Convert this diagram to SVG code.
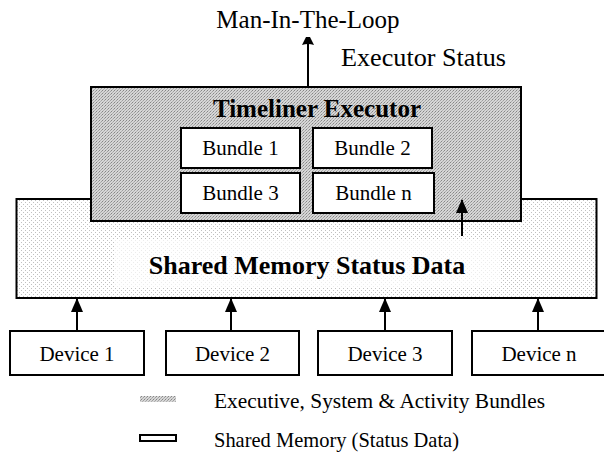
<svg xmlns="http://www.w3.org/2000/svg" width="604" height="454" viewBox="0 0 604 454">
  <defs>
    <!-- dense stipple used for the executor and bundle layer -->
    <pattern id="stipple" width="3" height="3" patternUnits="userSpaceOnUse">
      <rect width="3" height="3" fill="#d6d6d6"/>
      <rect x="0" y="0" width="1" height="1" fill="#868686"/>
      <rect x="2" y="1" width="1" height="1" fill="#a0a0a0"/>
      <rect x="1" y="2" width="1" height="1" fill="#b0b0b0"/>
    </pattern>
    <!-- light diagonal hatch used for the shared memory area -->
    <pattern id="hatch" width="4" height="4" patternUnits="userSpaceOnUse">
      <rect width="4" height="4" fill="#ffffff"/>
      <rect x="3" y="0" width="1" height="1" fill="#c0c0c0"/>
      <rect x="1" y="2" width="1" height="1" fill="#c0c0c0"/>
    </pattern>
    <marker id="head" markerUnits="userSpaceOnUse" markerWidth="14" markerHeight="12" refX="13" refY="6" orient="auto">
      <path d="M0,0 L14,6 L0,12 Z" fill="#000"/>
    </marker>
    <marker id="headSmall" markerUnits="userSpaceOnUse" markerWidth="8" markerHeight="12" refX="7" refY="6" orient="auto">
      <path d="M0,0 Q1,3 1,6 Q1,9 0,12 L8,8 L8,4 Z" fill="#000"/>
    </marker>
    <style>
      .box { stroke: #000; stroke-width: 2; }
      .plain { fill: #fff; stroke: #000; stroke-width: 2; }
      .lbl { font-family: "Liberation Serif", "Times New Roman", serif; fill: #000; }
      .bold { font-weight: bold; }
      .conn { stroke: #000; stroke-width: 2; fill: none; }
    </style>
  </defs>

  <rect width="604" height="454" fill="#fff"/>

  <!-- shared memory layer -->
  <g id="shared-memory">
    <rect class="box" x="16.5" y="199" width="580" height="99" fill="url(#hatch)"/>
    <rect x="115" y="240" width="385" height="48" fill="#fff" opacity="0.7"/>
    <text class="lbl bold" x="307" y="274" font-size="26" text-anchor="middle">Shared Memory Status Data</text>
  </g>

  <!-- executor layer -->
  <g id="timeliner-executor">
    <rect class="box" x="91" y="87" width="430" height="134" fill="url(#stipple)"/>
    <text class="lbl bold" x="317" y="117" font-size="25" text-anchor="middle">Timeliner Executor</text>
  </g>

  <g id="bundle-1">
    <rect class="plain" x="181" y="128" width="119" height="40"/>
    <text class="lbl" x="240.5" y="155" font-size="21" text-anchor="middle">Bundle 1</text>
  </g>
  <g id="bundle-2">
    <rect class="plain" x="313" y="128" width="119" height="40"/>
    <text class="lbl" x="372.5" y="155" font-size="21" text-anchor="middle">Bundle 2</text>
  </g>
  <g id="bundle-3">
    <rect class="plain" x="181" y="173" width="119" height="40"/>
    <text class="lbl" x="240.5" y="200" font-size="21" text-anchor="middle">Bundle 3</text>
  </g>
  <g id="bundle-n">
    <rect class="plain" x="313" y="173" width="121" height="40"/>
    <text class="lbl" x="373.5" y="200" font-size="21" text-anchor="middle">Bundle n</text>
  </g>

  <!-- outside labels -->
  <g id="man-in-the-loop">
    <text class="lbl" x="308" y="28" font-size="25" text-anchor="middle">Man-In-The-Loop</text>
  </g>
  <text class="lbl" x="341" y="66" font-size="25" textLength="165" lengthAdjust="spacingAndGlyphs">Executor Status</text>

  <!-- devices -->
  <g id="device-1">
    <rect class="plain" x="10" y="331" width="134" height="44"/>
    <text class="lbl" x="77" y="361" font-size="21" text-anchor="middle">Device 1</text>
  </g>
  <g id="device-2">
    <rect class="plain" x="166" y="331" width="133" height="44"/>
    <text class="lbl" x="232.5" y="361" font-size="21" text-anchor="middle">Device 2</text>
  </g>
  <g id="device-3">
    <rect class="plain" x="318" y="331" width="134" height="44"/>
    <text class="lbl" x="385" y="361" font-size="21" text-anchor="middle">Device 3</text>
  </g>
  <g id="device-n">
    <rect class="plain" x="472" y="331" width="140" height="44"/>
    <text class="lbl" x="539" y="361" font-size="21" text-anchor="middle">Device n</text>
  </g>

  <!-- connectors -->
  <g id="connectors">
    <line class="conn" x1="308" y1="87" x2="308" y2="38" marker-end="url(#headSmall)"/>
    <line class="conn" x1="462" y1="236" x2="462" y2="200" marker-end="url(#head)"/>
    <line class="conn" x1="77" y1="331" x2="77" y2="299" marker-end="url(#head)"/>
    <line class="conn" x1="231" y1="331" x2="231" y2="299" marker-end="url(#head)"/>
    <line class="conn" x1="385" y1="331" x2="385" y2="299" marker-end="url(#head)"/>
    <line class="conn" x1="538" y1="331" x2="538" y2="299" marker-end="url(#head)"/>
  </g>

  <!-- legend -->
  <g id="legend">
    <rect x="140" y="396" width="36" height="6" fill="url(#stipple)"/>
    <text class="lbl" x="214" y="408" font-size="21" textLength="331" lengthAdjust="spacingAndGlyphs">Executive, System &amp; Activity Bundles</text>
    <rect x="140" y="435" width="36" height="6" fill="#fff" stroke="#000" stroke-width="2"/>
    <text class="lbl" x="214" y="447" font-size="21" textLength="245" lengthAdjust="spacingAndGlyphs">Shared Memory (Status Data)</text>
  </g>
</svg>
